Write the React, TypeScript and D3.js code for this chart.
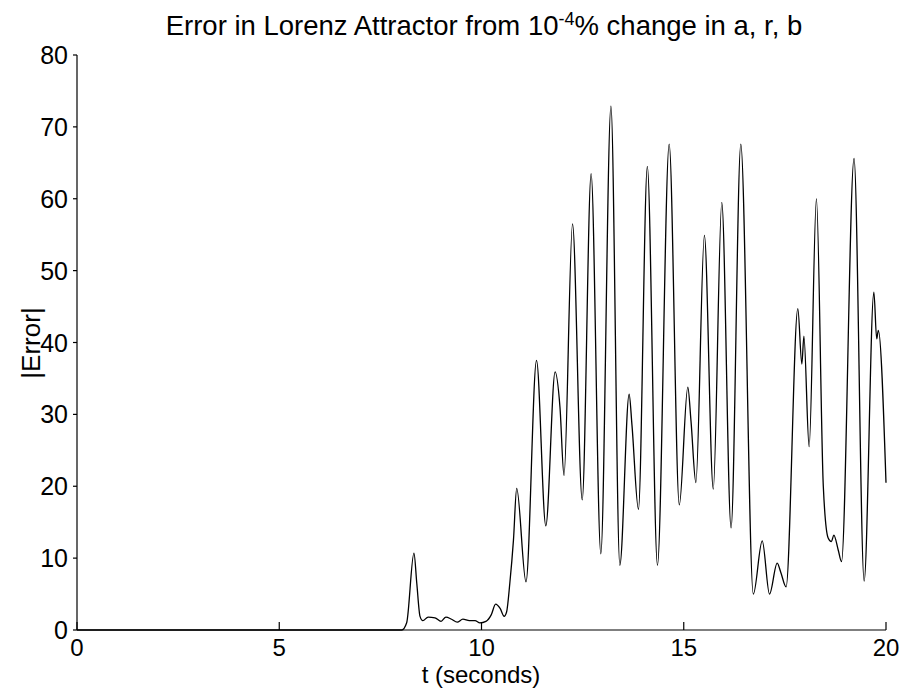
import React from "react";
import * as d3 from "d3";

const tValues = [0, 8.03, 8.15, 8.33, 8.40, 8.48, 8.55, 8.68, 8.85, 9.00, 9.12, 9.26, 9.40, 9.54, 9.70, 9.84, 9.96, 10.11, 10.24, 10.35, 10.46, 10.56, 10.62, 10.70, 10.79, 10.87, 11.10, 11.36, 11.59, 11.82, 11.94, 12.04, 12.25, 12.49, 12.71, 12.95, 13.20, 13.42, 13.65, 13.72, 13.88, 14.10, 14.35, 14.64, 14.89, 15.10, 15.18, 15.30, 15.51, 15.73, 15.94, 16.17, 16.41, 16.72, 16.94, 17.12, 17.31, 17.40, 17.53, 17.82, 17.92, 17.97, 18.10, 18.28, 18.45, 18.57, 18.65, 18.71, 18.82, 18.90, 19.21, 19.46, 19.70, 19.77, 19.81, 20.00];
const errValues = [0, 0, 1.0, 10.7, 6.5, 1.9, 1.3, 1.8, 1.7, 1.2, 1.8, 1.5, 1.1, 1.5, 1.3, 1.3, 1.0, 1.2, 2.1, 3.6, 3.0, 1.9, 2.5, 6.5, 12.5, 19.7, 6.7, 37.5, 14.5, 35.9, 31, 21.5, 56.5, 18.1, 63.5, 10.6, 72.9, 9.0, 32.8, 28.5, 16.8, 64.5, 9.0, 67.6, 17.4, 33.8, 29, 20.5, 54.9, 19.6, 59.5, 14.2, 67.6, 5.0, 12.4, 5.0, 9.3, 8.0, 6.0, 44.7, 37, 40.9, 25.5, 60, 20, 12.8, 12.3, 13.2, 11.1, 9.5, 65.6, 6.8, 47, 40.5, 41.7, 20.5];

const xTicks = [0, 5, 10, 15, 20];
const yTicks = [0, 10, 20, 30, 40, 50, 60, 70, 80];

const W = 904;
const H = 690;
const left = 77;
const right = 886;
const top = 55;
const bottom = 630;
const FONT = "'Liberation Sans', Arial, sans-serif";

export default function App() {
  const x = d3.scaleLinear().domain([0, 20]).range([left, right]);
  const y = d3.scaleLinear().domain([0, 80]).range([bottom, top]);
  const data = tValues.map((t, i) => [t, errValues[i]] as [number, number]);
  const line = d3
    .line<[number, number]>()
    .x((d) => x(d[0]))
    .y((d) => y(d[1]))
    .curve(d3.curveMonotoneX);

  return (
    <svg
      width={W}
      height={H}
      style={{ position: "absolute", left: 0, top: 0, background: "#fff" }}
    >
      <rect x={0} y={0} width={W} height={H} fill="#fff" />
      <text
        x={484}
        y={35}
        textAnchor="middle"
        fontFamily={FONT}
        fontSize={27.5}
        fill="#000"
      >
        Error in Lorenz Attractor from 10
        <tspan dy={-10} fontSize={18}>-4</tspan>
        <tspan dy={10}>% change in a, r, b</tspan>
      </text>
      <path d={line(data) || ""} fill="none" stroke="#000" strokeWidth={1.3} />
      <line x1={left} x2={right} y1={bottom} y2={bottom} stroke="#000" strokeWidth={1.2} />
      <line x1={left} x2={left} y1={top} y2={bottom} stroke="#000" strokeWidth={1.2} />
      {xTicks.map((t) => (
        <g key={"x" + t}>
          <line x1={x(t)} x2={x(t)} y1={bottom} y2={bottom - 8} stroke="#000" strokeWidth={1.2} />
          <text
            x={x(t)}
            y={656}
            textAnchor="middle"
            fontFamily={FONT}
            fontSize={24}
            fill="#000"
          >
            {t}
          </text>
        </g>
      ))}
      {yTicks.map((v) => (
        <g key={"y" + v}>
          <line x1={left - 4} x2={left} y1={y(v)} y2={y(v)} stroke="#000" strokeWidth={1.2} />
          <text
            x={left - 9}
            y={y(v) + 9}
            textAnchor="end"
            fontFamily={FONT}
            fontSize={25}
            fill="#000"
          >
            {v}
          </text>
        </g>
      ))}
      <text
        x={481}
        y={683}
        textAnchor="middle"
        fontFamily={FONT}
        fontSize={24}
        fill="#000"
      >
        t (seconds)
      </text>
      <text
        transform={`translate(40, ${343}) rotate(-90)`}
        textAnchor="middle"
        fontFamily={FONT}
        fontSize={26}
        fill="#000"
      >
        |Error|
      </text>
    </svg>
  );
}
